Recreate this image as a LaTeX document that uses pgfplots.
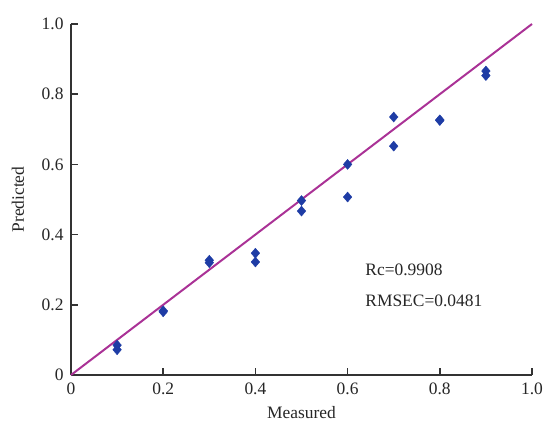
\documentclass[border=0pt]{standalone}
\usepackage{pgfplots}
\pgfplotsset{compat=1.18}
\usepackage{fontspec}
\setmainfont{Liberation Serif}
\definecolor{ptblue}{RGB}{30,60,165}
\definecolor{linemag}{RGB}{170,50,150}
\begin{document}
\begin{tikzpicture}
\begin{axis}[
  scale only axis,
  width=461bp, height=351bp,
  xmin=0, xmax=1, ymin=0, ymax=1,
  axis lines=left,
  axis line style={-, line width=1.6pt, black!80},
  tick align=inside,
  major tick length=7bp,
  tick style={line width=1.6pt, black!80},
  xtick={0,0.2,0.4,0.6,0.8,1.0},
  ytick={0,0.2,0.4,0.6,0.8,1.0},
  xticklabels={0,0.2,0.4,0.6,0.8,1.0},
  yticklabels={0,0.2,0.4,0.6,0.8,1.0},
  ticklabel style={font=\fontsize{17.5}{20}\selectfont, text=black!85},
  yticklabel style={xshift=-4bp},
  xticklabel style={yshift=-4bp},
  xlabel={Measured}, ylabel={Predicted},
  label style={font=\fontsize{17.5}{20}\selectfont, text=black!85},
  xlabel style={at={(axis description cs:0.5,-0.108)}, anchor=center},
  ylabel style={at={(axis description cs:-0.115,0.5)}, anchor=center},
  clip=false,
]
\addplot[linemag, line width=2pt] coordinates {(0,0) (1,1)};
\addplot[only marks, mark=diamond*, mark size=5bp, mark options={xscale=1.15}, color=ptblue] coordinates {
(0.1,0.085) (0.1,0.072)
(0.2,0.183) (0.2,0.180)
(0.3,0.327) (0.3,0.320)
(0.4,0.347) (0.4,0.322)
(0.5,0.497) (0.5,0.467)
(0.6,0.600) (0.6,0.507)
(0.7,0.735) (0.7,0.652)
(0.8,0.727) (0.8,0.725)
(0.9,0.866) (0.9,0.853)
};
\node[anchor=west, font=\fontsize{17.5}{20}\selectfont, text=black!85] at (axis cs:0.631,0.299) {Rc=0.9908};
\node[anchor=west, font=\fontsize{17.5}{20}\selectfont, text=black!85] at (axis cs:0.631,0.211) {RMSEC=0.0481};
\end{axis}
\pgfresetboundingbox
\path (-71bp,-55bp) rectangle (474bp,375bp);
\end{tikzpicture}
\end{document}
